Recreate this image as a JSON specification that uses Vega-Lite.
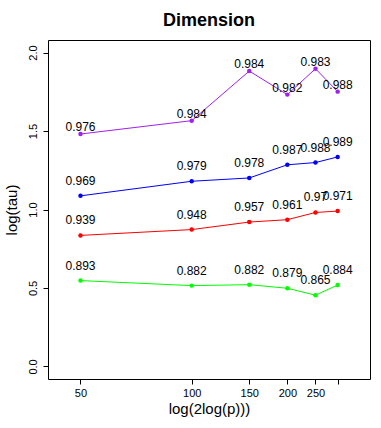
{
  "$schema": "https://vega.github.io/schema/vega-lite/v6.json",
  "width": 322,
  "height": 339,
  "autosize": "none",
  "padding": {"left": 48, "top": 40, "right": 11, "bottom": 49},
  "background": "white",
  "title": {"text": "Dimension", "font": "Liberation Sans", "fontSize": 18, "fontWeight": "bold", "anchor": "middle", "offset": 10, "color": "black"},
  "config": {
    "view": {"stroke": "black", "strokeWidth": 1},
    "axis": {"labelFont": "Liberation Sans", "titleFont": "Liberation Sans", "labelFontSize": 11, "titleFontSize": 15, "titleFontWeight": "normal", "labelColor": "black", "titleColor": "black", "tickColor": "black", "tickSize": 5, "domain": false, "grid": false}
  },
  "data": {"values": [
    {"series": "A", "p": 50, "lx": 2.057327, "y": 1.481, "label": "0.976"},
    {"series": "A", "p": 100, "lx": 2.220327, "y": 1.566, "label": "0.984"},
    {"series": "A", "p": 150, "lx": 2.304711, "y": 1.882, "label": "0.984"},
    {"series": "A", "p": 200, "lx": 2.360537, "y": 1.732, "label": "0.982"},
    {"series": "A", "p": 250, "lx": 2.401789, "y": 1.897, "label": "0.983"},
    {"series": "A", "p": 300, "lx": 2.434276, "y": 1.751, "label": "0.988"},
    {"series": "B", "p": 50, "lx": 2.057327, "y": 1.087, "label": "0.969"},
    {"series": "B", "p": 100, "lx": 2.220327, "y": 1.180, "label": "0.979"},
    {"series": "B", "p": 150, "lx": 2.304711, "y": 1.201, "label": "0.978"},
    {"series": "B", "p": 200, "lx": 2.360537, "y": 1.285, "label": "0.987"},
    {"series": "B", "p": 250, "lx": 2.401789, "y": 1.299, "label": "0.988"},
    {"series": "B", "p": 300, "lx": 2.434276, "y": 1.335, "label": "0.989"},
    {"series": "C", "p": 50, "lx": 2.057327, "y": 0.835, "label": "0.939"},
    {"series": "C", "p": 100, "lx": 2.220327, "y": 0.872, "label": "0.948"},
    {"series": "C", "p": 150, "lx": 2.304711, "y": 0.920, "label": "0.957"},
    {"series": "C", "p": 200, "lx": 2.360537, "y": 0.935, "label": "0.961"},
    {"series": "C", "p": 250, "lx": 2.401789, "y": 0.981, "label": "0.97"},
    {"series": "C", "p": 300, "lx": 2.434276, "y": 0.990, "label": "0.971"},
    {"series": "D", "p": 50, "lx": 2.057327, "y": 0.547, "label": "0.893"},
    {"series": "D", "p": 100, "lx": 2.220327, "y": 0.515, "label": "0.882"},
    {"series": "D", "p": 150, "lx": 2.304711, "y": 0.521, "label": "0.882"},
    {"series": "D", "p": 200, "lx": 2.360537, "y": 0.498, "label": "0.879"},
    {"series": "D", "p": 250, "lx": 2.401789, "y": 0.454, "label": "0.865"},
    {"series": "D", "p": 300, "lx": 2.434276, "y": 0.519, "label": "0.884"}
  ]},
  "encoding": {
    "x": {"field": "lx", "type": "quantitative", "scale": {"domain": [2.0097, 2.4817], "nice": false, "zero": false},
      "axis": {"title": "log(2log(p)))", "values": [2.057327, 2.220327, 2.304711, 2.360537, 2.401789, 2.434276], "labelExpr": "datum.value > 2.43 ? '' : format(round(exp(exp(datum.value)/2)), 'd')", "labelPadding": 3, "titlePadding": 3, "labelFlush": false, "labelOverlap": false}},
    "y": {"field": "y", "type": "quantitative", "scale": {"domain": [-0.08, 2.08], "nice": false, "zero": false},
      "axis": {"title": "log(tau)", "values": [0, 0.5, 1, 1.5, 2], "format": ".1f", "labelAngle": -90, "labelAlign": "center", "labelBaseline": "bottom", "labelPadding": 5, "titlePadding": 8, "labelFlush": false, "labelOverlap": false}},
    "color": {"field": "series", "type": "nominal", "scale": {"domain": ["A", "B", "C", "D"], "range": ["#A020F0", "#0000FF", "#FF0000", "#00FF00"]}, "legend": null}
  },
  "layer": [
    {"mark": {"type": "line", "strokeWidth": 1}, "encoding": {"detail": {"field": "series"}}},
    {"mark": {"type": "circle", "size": 20, "opacity": 1}},
    {"transform": [{"filter": "datum.series === 'A'"}], "mark": {"type": "text", "font": "Liberation Sans", "fontSize": 12, "baseline": "middle", "dy": -7, "color": "black"}, "encoding": {"text": {"field": "label"}, "color": {"value": "black"}}},
    {"transform": [{"filter": "datum.series !== 'A'"}], "mark": {"type": "text", "font": "Liberation Sans", "fontSize": 12, "baseline": "middle", "dy": -15, "color": "black"}, "encoding": {"text": {"field": "label"}, "color": {"value": "black"}}}
  ]
}
